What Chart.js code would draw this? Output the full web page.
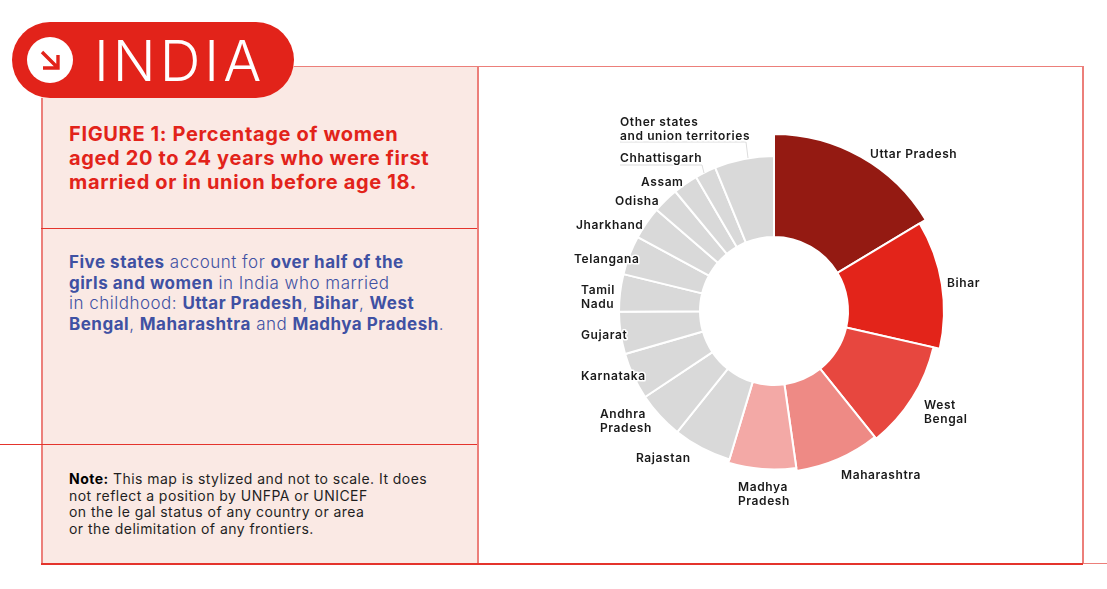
<!DOCTYPE html>
<html><head><meta charset="utf-8">
<script src="https://cdn.jsdelivr.net/npm/chart.js@4"></script>
<style>
html,body{margin:0;padding:0;background:#fff;width:1107px;height:589px;overflow:hidden}
body{position:relative;font-family:Inter,"Open Sans",sans-serif}
.abs{position:absolute}
.panel{left:41px;top:66px;width:436px;height:497px;background:#fae9e4}
.ln{position:absolute;background:#e4342c}
.soft{background:#ec7f7a}
.badge{left:12px;top:22px;width:282px;height:76px;border-radius:38px;background:#e2231a}
.circle{left:27px;top:37px;width:46px;height:46px;border-radius:50%;background:#fff}
.india{left:94px;top:26px;font:300 56.5px/70px Inter,sans-serif;color:#fff;letter-spacing:4px}
h1{margin:0;left:69px;top:122px;font:700 20px/24px Inter,sans-serif;color:#e2231a;white-space:nowrap;letter-spacing:.65px}
.lead{left:69px;top:252px;font:300 17px/20.6px Inter,sans-serif;color:#3f51a3;white-space:nowrap;letter-spacing:.5px}
.lead b{font-weight:700}
.note{left:69px;top:471px;font:400 14px/16.7px Inter,sans-serif;color:#1f1f1f;white-space:nowrap;letter-spacing:.46px}
.note b{font-weight:700;color:#000}
#wrap{left:478px;top:67px;width:592px;height:488px}
</style></head><body>
<div class="abs panel"></div>
<div class="ln soft" style="left:294px;top:66px;width:789px;height:1px"></div>
<div class="ln soft" style="left:41px;top:98px;width:1.5px;height:466px"></div>
<div class="ln soft" style="left:477px;top:66px;width:1.5px;height:498px"></div>
<div class="ln soft" style="left:1082px;top:66px;width:1.5px;height:498px"></div>
<div class="ln" style="left:41px;top:563px;width:1042px;height:1.5px"></div>
<div class="ln soft" style="left:1083px;top:563px;width:24px;height:1px"></div>
<div class="ln" style="left:41px;top:228px;width:436px;height:1px"></div>
<div class="ln" style="left:0;top:444px;width:477px;height:1px"></div>
<div class="abs badge"></div>
<div class="abs circle"></div>
<svg class="abs" style="left:27px;top:37px" width="46" height="46" viewBox="0 0 46 46"><path d="M15 15 L30 30 M31 18 V31 H16" fill="none" stroke="#e2231a" stroke-width="3.4"/></svg>
<div class="abs india">INDIA</div>
<h1 class="abs">FIGURE 1: Percentage of women<br>aged 20 to 24 years who were first<br>married or in union before age 18.</h1>
<div class="abs lead"><b>Five states</b> account for <b>over half of the</b><br><b>girls and women</b> in India who married<br>in childhood: <b>Uttar Pradesh</b>, <b>Bihar</b>, <b>West</b><br><b>Bengal</b>, <b>Maharashtra</b> and <b>Madhya Pradesh</b>.</div>
<div class="abs note"><b>Note:</b> This map is stylized and not to scale. It does<br>not reflect a position by UNFPA or UNICEF<br>on the le gal status of any country or area<br>or the delimitation of any frontiers.</div>
<div class="abs" id="wrap"><canvas id="c" width="592" height="488"></canvas></div>
<script>
const categories = ['Uttar Pradesh','Bihar',['West','Bengal'],'Maharashtra',['Madhya','Pradesh'],'Rajastan',['Andhra','Pradesh'],'Karnataka','Gujarat',['Tamil','Nadu'],'Telangana','Jharkhand','Odisha','Assam','Chhattisgarh',['Other states','and union territories']];
// share of the total: sets the angular width of each slice
const shares = [16.4,12.2,10.7,8.5,6.9,6.1,4.9,4.9,4.4,3.9,4.1,3.4,2.7,2.6,2.2,6.2];
// radial band length of each slice
const bandValues = [177,170,163.5,161.5,158.5,155,155,155,155,155,155,155,155,155,155,155];
const colors = ['#941a12','#e3241a','#e7473f','#ee8a85','#f3a9a6','#d9d9d9','#d9d9d9','#d9d9d9','#d9d9d9','#d9d9d9','#d9d9d9','#d9d9d9','#d9d9d9','#d9d9d9','#d9d9d9','#d9d9d9'];
const holeValue = 74;
// text layout: left x and first-line centre y, in page pixels
const labelAt = [[870,154],[947,283],[924,405],[841,475],[738,487],[636,458],[600,414],[581,376],[581,335],[581,290],[574,259],[576,225],[615,201],[641,182],[620,158],[620,122]];
const leaders = [[[620,142],[746,142],[748,158]],[[620,165],[702,165],[704,173]]];
const pageX = 478, pageY = 67;
const shareTotal = shares.reduce((a,b)=>a+b,0);

const ringAndLabels = {
  id:'ringAndLabels',
  afterDatasetsUpdate(chart){
    const r = chart.scales.r.getDistanceFromCenterForValue(holeValue);
    chart.getDatasetMeta(0).data.forEach(a=>{a.innerRadius=r;});
  },
  afterDatasetsDraw(chart){
    const ctx = chart.ctx;
    ctx.save();
    ctx.strokeStyle='#dcdcdc'; ctx.lineWidth=1;
    leaders.forEach(p=>{ctx.beginPath();p.forEach((q,i)=>{const x=q[0]-pageX,y=q[1]-pageY;i?ctx.lineTo(x,y):ctx.moveTo(x,y);});ctx.stroke();});
    ctx.font='600 12px Inter, sans-serif';
    ctx.letterSpacing='0.6px';
    ctx.textBaseline='middle';ctx.textAlign='left';ctx.lineJoin='round';
    categories.forEach((c,i)=>{
      const lines = Array.isArray(c)?c:[c];
      lines.forEach((t,j)=>{
        const x=labelAt[i][0]-pageX,y=labelAt[i][1]-pageY+j*14.5;
        ctx.strokeStyle='#fff';ctx.lineWidth=3;ctx.strokeText(t,x,y);
        ctx.fillStyle='#1a1a1a';ctx.fillText(t,x,y);
      });
    });
    ctx.restore();
  }
};

new Chart(document.getElementById('c'),{
  type:'polarArea',
  data:{labels:categories,datasets:[{data:bandValues,backgroundColor:colors,borderColor:'#fff',borderWidth:2,
    angle:(c)=>shares[c.dataIndex]/shareTotal*360}]},
  options:{responsive:false,animation:false,
    layout:{padding:0},
    plugins:{legend:{display:false},tooltip:{enabled:false}},
    scales:{r:{display:false,min:0,max:244}}},
  plugins:[ringAndLabels]
});
</script>
</body></html>
